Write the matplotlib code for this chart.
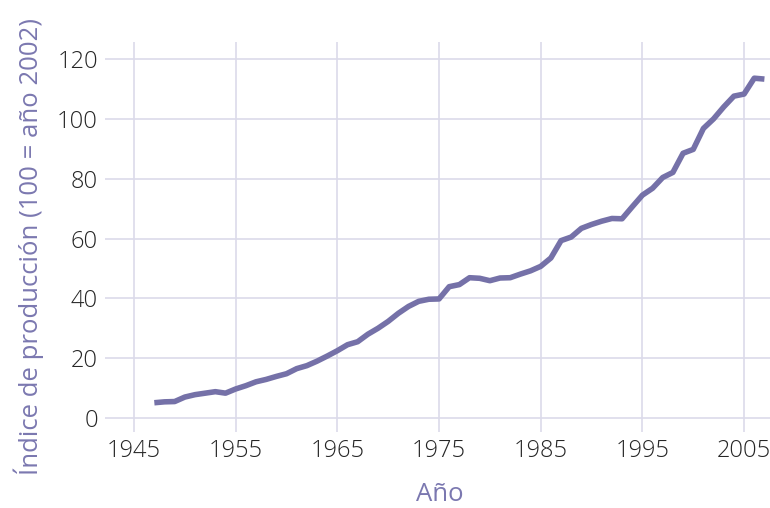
#!/usr/bin/env python3
"""Índice de producción por año (100 = año 2002)."""

import matplotlib
matplotlib.use("Agg")
import matplotlib.pyplot as plt

# datos
years = list(range(1947, 2008))
index = [
    5.1, 5.4, 5.5, 7.0, 7.8, 8.3, 8.8, 8.3, 9.7, 10.8,
    12.1, 12.9, 13.9, 14.8, 16.5, 17.5, 19.0, 20.7, 22.5, 24.5,
    25.5, 28.0, 30.0, 32.3, 35.0, 37.3, 39.0, 39.7, 39.8, 43.9,
    44.6, 46.9, 46.7, 45.9, 46.8, 46.9, 48.1, 49.2, 50.7, 53.5,
    59.3, 60.5, 63.4, 64.7, 65.8, 66.7, 66.6, 70.6, 74.5, 76.8,
    80.4, 82.1, 88.5, 89.8, 96.8, 100.0, 104.0, 107.6, 108.3, 113.6,
    113.3,
]
xticks = [1945, 1955, 1965, 1975, 1985, 1995, 2005]
yticks = [0, 20, 40, 60, 80, 100, 120]

LINE = "#7571a8"
GRID = "#dcdaea"
LABEL = "#7b78b0"
TICKTXT = "#262626"

plt.rcParams["font.family"] = ["Open Sans", "DejaVu Sans"]

W, H = 770, 508
fig = plt.figure(figsize=(W / 100, H / 100), dpi=100)
left, right, top, bottom = 110, 770, 42, 420
ax = fig.add_axes([left / W, 1 - bottom / H, (right - left) / W, (bottom - top) / H])

ax.plot(years, index, color=LINE, lw=4.0, solid_joinstyle="round",
        solid_capstyle="butt", zorder=3)

ax.set_xlim(1942.64, 2007.55)
ax.set_ylim(-0.67, 125.7)
ax.set_xticks(xticks)
ax.set_yticks(yticks)
ax.grid(True, color=GRID, lw=1.2)
ax.set_axisbelow(True)
for s in ax.spines.values():
    s.set_visible(False)

ax.tick_params(axis="x", length=8.6, width=1.2, color=GRID, pad=5,
               labelsize=17, labelcolor=TICKTXT)
ax.tick_params(axis="y", length=3.6, width=1.2, color=GRID, pad=5,
               labelsize=17, labelcolor=TICKTXT)
for lab in ax.get_xticklabels() + ax.get_yticklabels():
    lab.set_fontweight("light")

ax.set_xlabel("Año", color=LABEL, fontsize=18.5, labelpad=14)
ax.set_ylabel("Índice de producción (100 = año 2002)", color=LABEL,
              fontsize=18.5, labelpad=10)
ax.yaxis.set_label_coords(-66 / (right - left), 0.46)

fig.savefig("out.png", dpi=100)
